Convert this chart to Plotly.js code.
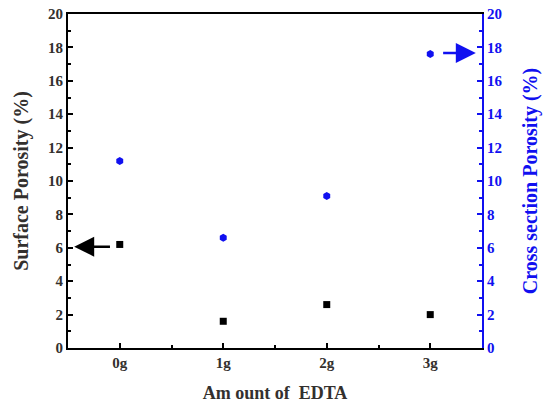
<!DOCTYPE html>
<html><head><meta charset="utf-8">
<script src="https://cdn.plot.ly/plotly-3.0.1.min.js"></script>
<style>html,body{margin:0;padding:0;background:#fff}#chart{width:545px;height:405px}</style>
</head><body><div id="chart"></div>
<script>
const categories = ['0g', '1g', '2g', '3g'];
const surfacePorosity = [6.2, 1.6, 2.6, 2.0];
const crossSectionPorosity = [11.2, 6.6, 9.1, 17.6];
const xIndex = categories.map((c, i) => i);

const font = 'Liberation Serif, Times New Roman, serif';
const dark = '#33302e';
const blue = '#1010f0';

const traces = [
  {x: xIndex, y: surfacePorosity, type: 'scatter', mode: 'markers', yaxis: 'y',
   marker: {symbol: 'square', size: 7, color: '#000'}},
  {x: xIndex, y: crossSectionPorosity, type: 'scatter', mode: 'markers', yaxis: 'y2',
   marker: {symbol: 'hexagon', size: 8, color: blue}}
];

const layout = {
  width: 545, height: 405,
  margin: {l: 68, r: 63, t: 14, b: 57},
  paper_bgcolor: '#fff', plot_bgcolor: '#fff',
  showlegend: false,
  font: {family: font, size: 15, color: dark},
  xaxis: {
    range: [-0.5, 3.5], tickmode: 'array', tickvals: xIndex, ticktext: categories,
    showgrid: false, zeroline: false, showline: true, linecolor: '#000', linewidth: 2, mirror: true,
    ticks: 'inside', ticklen: 5, tickwidth: 2, tickcolor: '#000',
    minor: {tickmode: 'linear', tick0: 0, dtick: 0.5, ticks: 'inside', ticklen: 3, tickwidth: 2, tickcolor: '#000'},
    tickfont: {family: font, size: 15, color: dark, weight: 'bold'},
    title: {text: 'Am ount of  EDTA', font: {family: font, size: 18, color: dark, weight: 'bold'}, standoff: 16}
  },
  yaxis: {
    range: [0, 20], dtick: 2, tick0: 0,
    showgrid: false, zeroline: false, showline: true, linecolor: '#000', linewidth: 2,
    ticks: 'inside', ticklen: 5, tickwidth: 2, tickcolor: '#000',
    minor: {dtick: 1, ticks: 'inside', ticklen: 3, tickwidth: 2, tickcolor: '#000'},
    tickfont: {family: font, size: 15, color: dark, weight: 'bold'},
    title: {text: 'Surface Porosity (%)', font: {family: font, size: 20, color: dark, weight: 'bold'}, standoff: 14}
  },
  yaxis2: {
    range: [0, 20], dtick: 2, tick0: 0, overlaying: 'y', side: 'right',
    showgrid: false, zeroline: false, showline: true, linecolor: blue, linewidth: 2,
    ticks: 'inside', ticklen: 5, tickwidth: 2, tickcolor: blue,
    minor: {dtick: 1, ticks: 'inside', ticklen: 3, tickwidth: 2, tickcolor: blue},
    tickfont: {family: font, size: 15, color: blue, weight: 'bold'},
    title: {text: 'Cross section Porosity (%)', font: {family: font, size: 20, color: blue, weight: 'bold'}, standoff: 21}
  },
  annotations: [
    {x: -0.44, y: 6.07, xref: 'x', yref: 'y', ax: -0.08, ay: 6.07, axref: 'x', ayref: 'y',
     showarrow: true, arrowhead: 2, arrowsize: 1.6, arrowwidth: 2.5, arrowcolor: '#000', text: ''},
    {x: 3.44, y: 17.66, xref: 'x', yref: 'y2', ax: 3.11, ay: 17.66, axref: 'x', ayref: 'y2',
     showarrow: true, arrowhead: 2, arrowsize: 1.6, arrowwidth: 2.5, arrowcolor: blue, text: ''}
  ]
};

Plotly.newPlot('chart', traces, layout, {displayModeBar: false, staticPlot: true});
</script></body></html>
